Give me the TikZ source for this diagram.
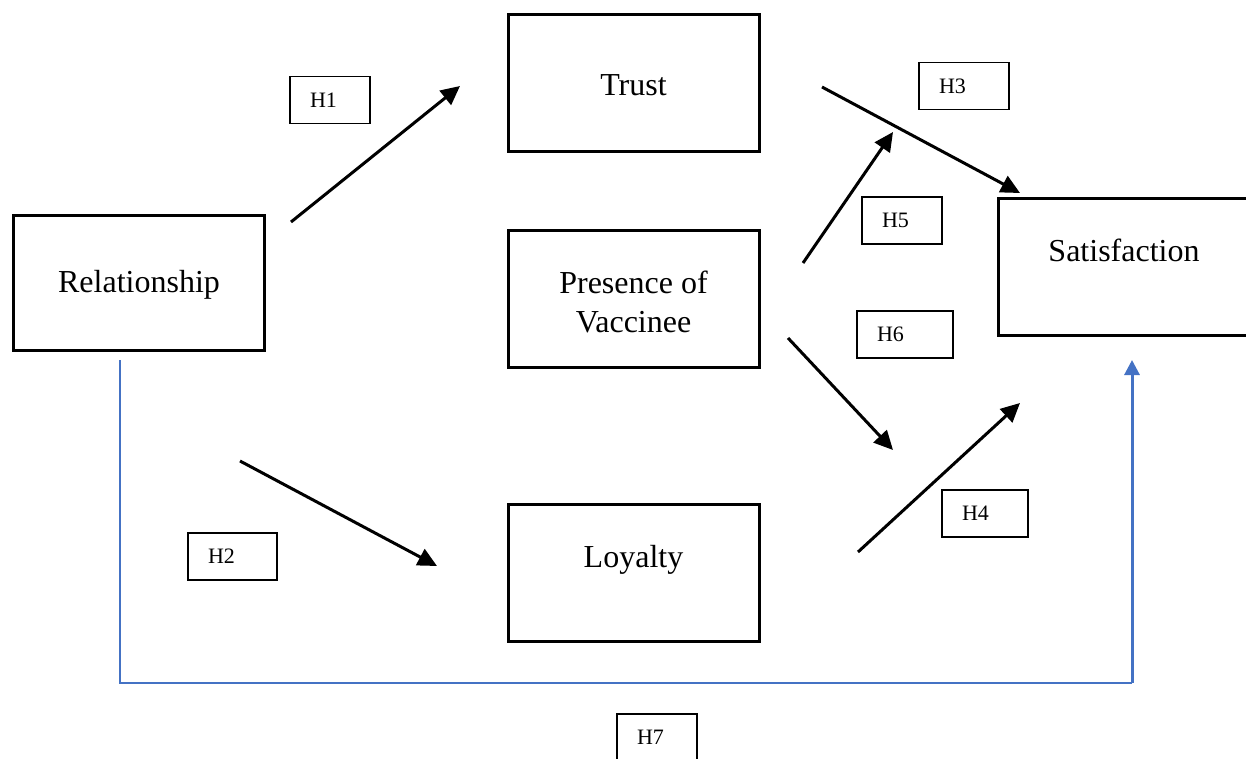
\documentclass[tikz,border=0pt]{standalone}
\usepackage{fontspec}
\setmainfont{Liberation Serif}
\usetikzlibrary{arrows.meta}
\definecolor{linkblue}{HTML}{4472C4}
\tikzset{
  bigbox/.style={draw=black, line width=3pt, minimum width=251pt, minimum height=137pt, inner sep=0pt},
  bigtext/.style={font=\fontsize{32}{39}\selectfont, align=center, inner sep=0pt},
  hyp/.style={draw=black, line width=1.2pt, minimum height=47pt, inner ysep=0pt, inner xsep=20pt, align=left, font=\fontsize{22}{26}\selectfont},
  link/.style={line width=3pt, -{Triangle[length=19pt,width=18pt]}},
  bluelink/.style={draw=linkblue, line width=1.5pt}
}
\begin{document}
\begin{tikzpicture}[x=1pt,y=-1pt]
\useasboundingbox (0,0) rectangle (1246,759);
\clip (0,0) rectangle (1246,759);
% main boxes
\node[bigbox] (trust) at (633.5,83) {};
\node[bigtext] (trusttext) at (633.5,85) {Trust};
\node[bigbox, minimum height=135pt] (rel) at (139,283) {};
\node[bigtext] (reltext) at (139,285) {Relationship};
\node[bigbox] (pres) at (633.5,299) {};
\node[bigtext] (prestext) at (633.5,302) {Presence of\\Vaccinee};
\node[bigbox] (sat) at (1124,267) {};
\node[bigtext, anchor=base] (sattext) at (1124,261) {Satisfaction};
\node[bigbox] (loy) at (633.5,573) {};
\node[bigtext, anchor=base] (loytext) at (633.5,567) {Loyalty};
% hypothesis labels
\node[hyp, text width=40pt] (h1) at (330,100) {H1};
\node[hyp, text width=50pt] (h3) at (964,86) {H3};
\node[hyp, text width=40pt] (h5) at (902,220.5) {H5};
\node[hyp, text width=56pt] (h6) at (905,334.5) {H6};
\node[hyp, text width=46pt] (h4) at (985,513.5) {H4};
\node[hyp, text width=49pt] (h2) at (232.5,556.5) {H2};
\node[hyp, text width=40pt] (h7) at (657,737.5) {H7};
% arrow end points
\coordinate (a1s) at (291,222); \coordinate (a1e) at (460,86);
\coordinate (a3s) at (822,87);  \coordinate (a3e) at (1020,193);
\coordinate (a5s) at (803,263); \coordinate (a5e) at (893,132);
\coordinate (a6s) at (788,338); \coordinate (a6e) at (893,450);
\coordinate (a4s) at (858,552); \coordinate (a4e) at (1020,403);
\coordinate (a2s) at (240,461); \coordinate (a2e) at (437,566);
\coordinate (b1) at (120,360); \coordinate (b2) at (120,683);
\coordinate (b3) at (1132,683); \coordinate (b4) at (1132,360);
\draw[link] (a1s) -- (a1e);
\draw[link] (a3s) -- (a3e);
\draw[link] (a5s) -- (a5e);
\draw[link] (a6s) -- (a6e);
\draw[link] (a4s) -- (a4e);
\draw[link] (a2s) -- (a2e);
\draw[bluelink] (b1) -- (b2) -- (b3);
\draw[draw=linkblue, fill=linkblue, line width=3pt, -{Triangle[length=15pt,width=15pt]}] (b3) -- (b4);
\end{tikzpicture}
\end{document}
